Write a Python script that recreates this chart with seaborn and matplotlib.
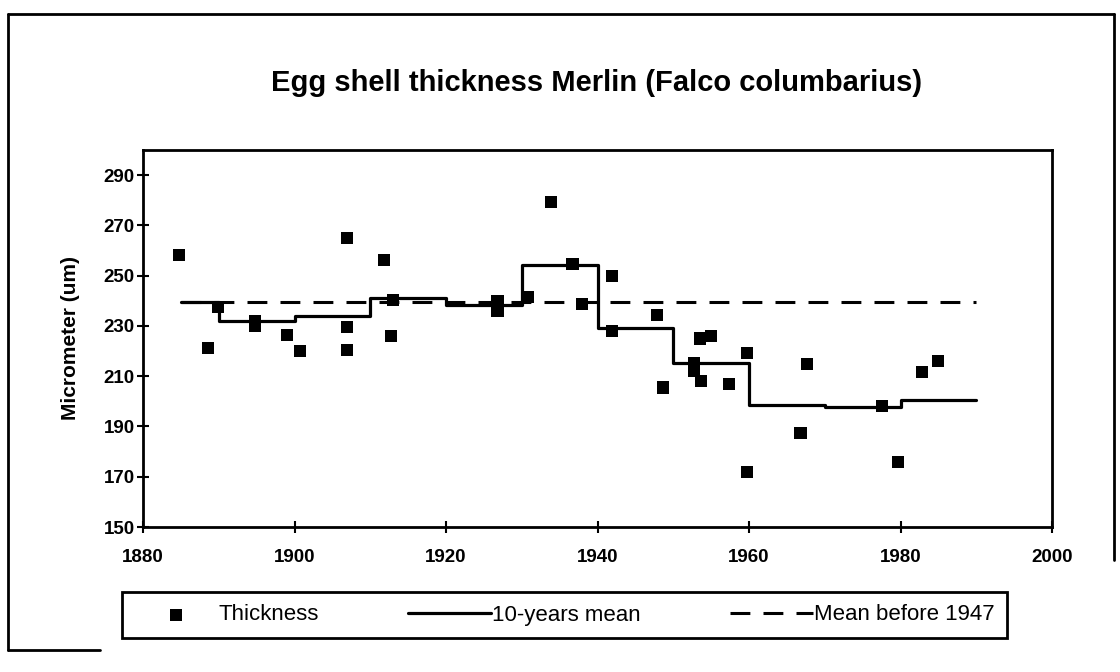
import matplotlib
matplotlib.use("Agg")
import matplotlib.pyplot as plt
from matplotlib.lines import Line2D
import seaborn as sns
import pandas as pd

# Individual egg shell measurements (year, thickness in um)
years = [1884.7, 1888.6, 1889.9, 1894.8, 1894.8, 1899.0, 1900.7, 1906.9, 1906.9,
         1906.9, 1911.8, 1912.8, 1913.0, 1926.8, 1926.8, 1930.8, 1933.8, 1936.7,
         1937.9, 1941.9, 1941.9, 1947.8, 1948.7, 1952.8, 1952.8, 1953.5, 1953.7,
         1955.0, 1957.4, 1959.7, 1959.7, 1966.8, 1967.7, 1977.6, 1979.7, 1982.8,
         1985.0]
thickness = [258.3, 221.1, 237.7, 232.0, 230.0, 226.5, 220.0, 264.8, 229.7,
             220.6, 256.1, 226.0, 240.5, 240.0, 236.0, 241.7, 279.2, 254.7,
             238.9, 250.0, 227.9, 234.5, 205.5, 215.2, 212.0, 225.0, 208.1,
             226.0, 206.9, 219.2, 171.7, 187.5, 214.8, 198.2, 175.7, 211.7,
             216.0]

# 10-year means (step function, last value repeated to close the final step)
decade_start = [1885, 1890, 1900, 1910, 1920, 1930, 1940, 1950, 1960, 1970, 1980, 1990]
decade_mean = [239.5, 231.8, 234.0, 241.0, 238.5, 254.3, 229.2, 215.2, 198.7, 197.8, 200.6, 200.6]

# Mean before 1947
mean_years = [1885, 1990]
mean_before_1947 = [239.5, 239.5]

x_ticks = [1880, 1900, 1920, 1940, 1960, 1980, 2000]
y_ticks = [150, 170, 190, 210, 230, 250, 270, 290]

df_points = pd.DataFrame({"year": years, "thickness": thickness})
df_steps = pd.DataFrame({"year": decade_start, "mean": decade_mean})
df_mean = pd.DataFrame({"year": mean_years, "mean": mean_before_1947})

sns.set_theme(style="white")
plt.rcParams["font.family"] = ["Liberation Sans", "DejaVu Sans"]
plt.rcParams["text.color"] = "black"
plt.rcParams["axes.labelcolor"] = "black"
plt.rcParams["xtick.color"] = "black"
plt.rcParams["ytick.color"] = "black"

W, H = 1120, 672
fig = plt.figure(figsize=(W / 100, H / 100), dpi=100)
ax = fig.add_axes([143 / W, 1 - 527 / H, (1052 - 143) / W, (527 - 150) / H])

sns.scatterplot(data=df_points, x="year", y="thickness", marker="s", color="black",
                s=75, edgecolor="none", ax=ax, label="Thickness", zorder=3)
sns.lineplot(data=df_steps, x="year", y="mean", drawstyle="steps-post", color="black",
             linewidth=2.3, estimator=None, ax=ax, label="10-years mean")
sns.lineplot(data=df_mean, x="year", y="mean", color="black", linewidth=2.2,
             estimator=None, ax=ax, label="Mean before 1947")
ax.lines[-1].set_dashes((6.5, 4.3))

ax.set_xlim(1880, 2000)
ax.set_ylim(150, 300)
ax.set_xticks(x_ticks)
ax.set_yticks(y_ticks)
ax.set_xlabel("")
ax.set_ylabel("Micrometer (um)", fontsize=15, fontweight="bold", labelpad=17)
ax.tick_params(axis="both", direction="inout", length=8, width=1.5, color="black",
               labelsize=13.5, bottom=True, left=True)
ax.tick_params(axis="x", pad=12)
ax.tick_params(axis="y", pad=2)
for lab in ax.get_xticklabels() + ax.get_yticklabels():
    lab.set_fontweight("bold")
for sp in ax.spines.values():
    sp.set_color("black")
    sp.set_linewidth(2)

fig.text(597 / W, 1 - 83 / H, "Egg shell thickness Merlin (Falco columbarius)",
         ha="center", va="center", fontsize=21, fontweight="bold")

handles, labels = ax.get_legend_handles_labels()
leg = ax.legend(handles, labels, ncol=3, loc="center left",
                bbox_to_anchor=(122 / W, 1 - 615 / H), bbox_transform=fig.transFigure,
                borderaxespad=0, frameon=True, fancybox=False, framealpha=1,
                edgecolor="black", fontsize=16, handlelength=3.74, handletextpad=0.05,
                columnspacing=4.0, borderpad=0.56)
leg.get_frame().set_linewidth(2)

# outer border of the original figure
for xs, ys in [([8, 8], [14, 650]), ([8, 1114], [14, 14]), ([1114, 1114], [14, 560]),
               ([8, 100], [650, 650])]:
    fig.add_artist(Line2D([x / W for x in xs], [1 - y / H for y in ys],
                          transform=fig.transFigure, color="black", linewidth=2))

fig.savefig("out.png", dpi=100)
